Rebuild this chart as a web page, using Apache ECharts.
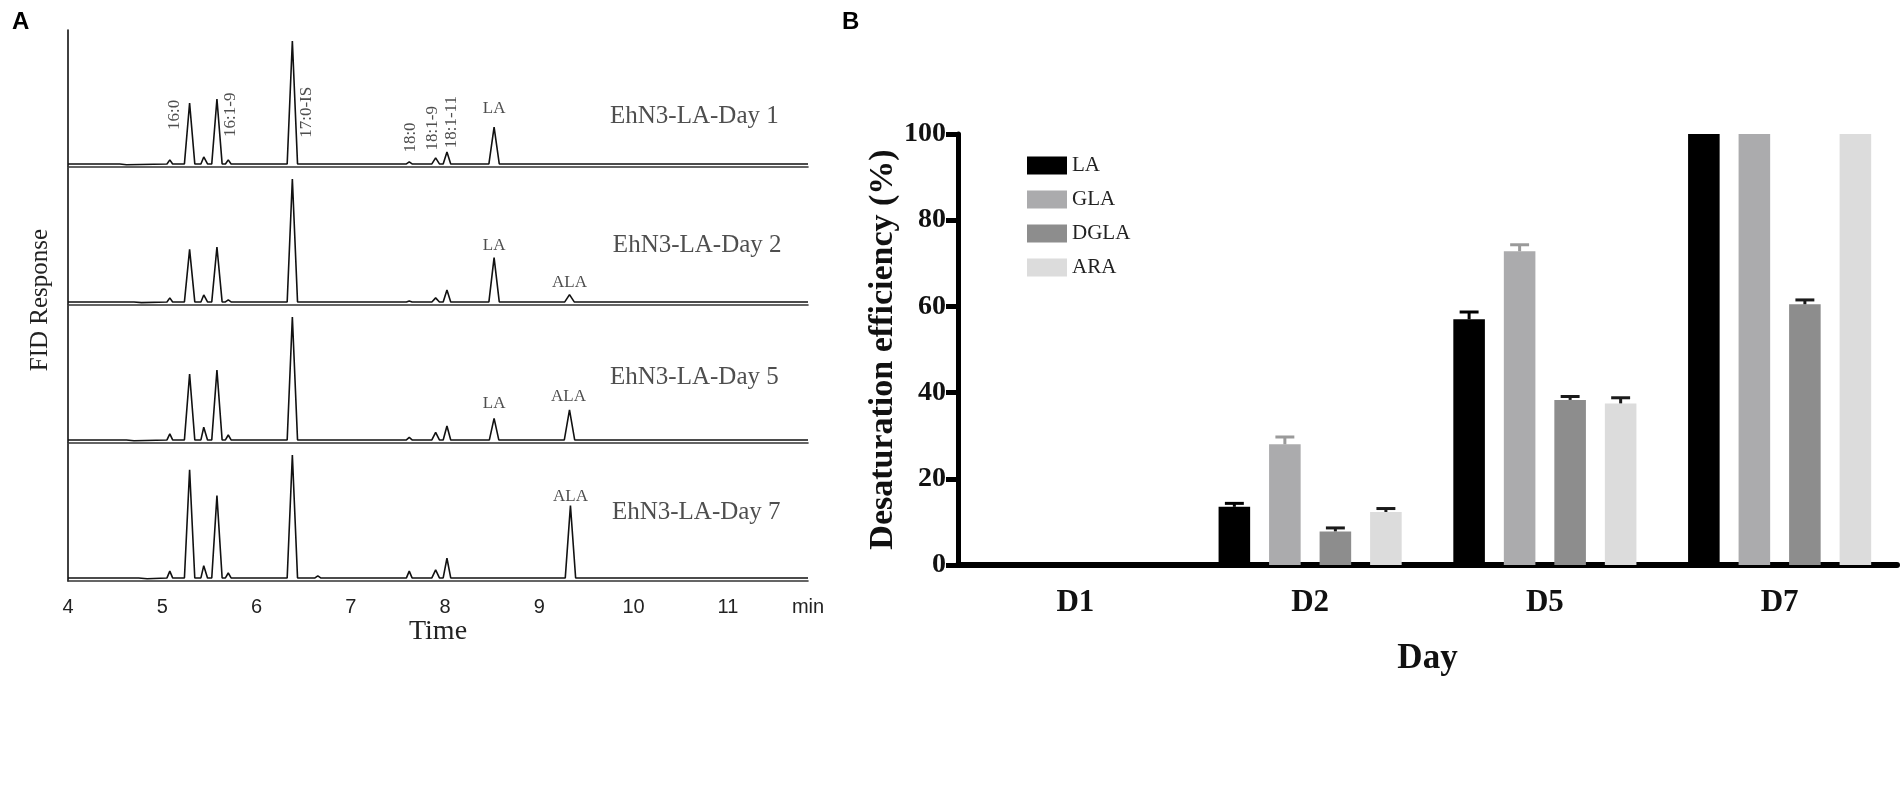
<!DOCTYPE html>
<html>
<head>
<meta charset="utf-8">
<script src="https://cdn.jsdelivr.net/npm/echarts@6/dist/echarts.min.js"></script>
<style>
  html, body { margin: 0; padding: 0; background: #fff; }
  #chart-container { width: 1900px; height: 796px; }
</style>
</head>
<body>
<div id="chart-container"></div>
<script>
// ---- Panel A: GC-FID traces, [time (min), response] vertices (17:0-IS = 100) ----
const traceDay1 = [
  [4, 0], [4.28, 0], [4.3, 1], [4.32, 0], [4.55, 0], [4.56, -0.7], [4.62, -0.7], [4.63, 0],
  [5.05, 0], [5.08, 3.3], [5.11, 0], [5.235, 0], [5.29, 49.6], [5.345, 0],
  [5.41, 0], [5.44, 5.7], [5.48, 0], [5.525, 0], [5.58, 52.8], [5.635, 0],
  [5.67, 0], [5.7, 3.3], [5.73, 0], [6.325, 0], [6.38, 100], [6.435, 0],
  [6.6, 0], [6.62, 0.8], [6.64, 0], [7.03, 0], [7.05, 0.6], [7.07, 0],
  [7.59, 0], [7.62, 1.6], [7.65, 0], [7.86, 0], [7.9, 4.9], [7.94, 0],
  [7.98, 0], [8.02, 9.8], [8.06, 0], [8.2, 0], [8.22, 1], [8.24, 0],
  [8.465, 0], [8.52, 30], [8.575, 0], [8.98, 0], [9.0, 0.6], [9.02, 0],
  [9.71, 0], [9.73, 0.6], [9.75, 0], [10.08, 0], [10.1, 0.5], [10.12, 0],
  [11.05, 0], [11.07, 0.6], [11.09, 0], [11.85, 0]
];
const traceDay2 = [
  [4, 0], [4.28, 0], [4.3, 0.8], [4.32, 0], [4.7, 0], [4.71, -0.6], [4.78, -0.6], [4.79, 0],
  [5.05, 0], [5.08, 3.3], [5.11, 0], [5.235, 0], [5.29, 42.8], [5.345, 0],
  [5.41, 0], [5.44, 5.7], [5.48, 0], [5.525, 0], [5.58, 44.7], [5.635, 0],
  [5.67, 0], [5.7, 1.6], [5.73, 0], [6.325, 0], [6.38, 100], [6.435, 0],
  [6.6, 0], [6.62, 0.6], [6.64, 0], [7.03, 0], [7.05, 0.6], [7.07, 0],
  [7.59, 0], [7.62, 0.8], [7.65, 0], [7.86, 0], [7.9, 3.3], [7.94, 0],
  [7.98, 0], [8.02, 9.8], [8.06, 0], [8.465, 0], [8.52, 36], [8.575, 0],
  [9.27, 0], [9.32, 6], [9.37, 0], [10.08, 0], [10.1, 0.5], [10.12, 0],
  [11.05, 0], [11.07, 0.5], [11.09, 0], [11.85, 0]
];
const traceDay5 = [
  [4, 0], [4.28, 0], [4.3, 0.8], [4.32, 0], [4.62, 0], [4.63, -0.7], [4.7, -0.7], [4.71, 0],
  [5.05, 0], [5.08, 4.9], [5.11, 0], [5.235, 0], [5.29, 53.7], [5.345, 0],
  [5.41, 0], [5.44, 10.3], [5.48, 0], [5.525, 0], [5.58, 56.9], [5.635, 0],
  [5.67, 0], [5.7, 4], [5.73, 0], [6.325, 0], [6.38, 100], [6.435, 0],
  [6.6, 0], [6.62, 0.8], [6.64, 0], [7.03, 0], [7.05, 1], [7.07, 0],
  [7.59, 0], [7.62, 2], [7.65, 0], [7.86, 0], [7.9, 6.2], [7.94, 0],
  [7.98, 0], [8.02, 11.4], [8.06, 0], [8.18, 0], [8.2, 1], [8.22, 0],
  [8.47, 0], [8.52, 17.6], [8.57, 0], [9.265, 0], [9.32, 24.4], [9.375, 0],
  [10.1, 0], [10.12, 1], [10.14, 0], [11.05, 0], [11.07, 1], [11.09, 0], [11.85, 0]
];
const traceDay7 = [
  [4, 0], [4.28, 0], [4.3, 1.2], [4.32, 0], [4.75, 0], [4.76, -0.7], [4.84, -0.7], [4.85, 0],
  [5.05, 0], [5.08, 5.5], [5.11, 0], [5.235, 0], [5.29, 88], [5.345, 0],
  [5.41, 0], [5.44, 10], [5.48, 0], [5.525, 0], [5.58, 67], [5.635, 0],
  [5.67, 0], [5.7, 4], [5.73, 0], [6.325, 0], [6.38, 100], [6.435, 0],
  [6.62, 0], [6.65, 1.6], [6.68, 0], [7.03, 0], [7.05, 1.2], [7.07, 0],
  [7.59, 0], [7.62, 5.5], [7.65, 0], [7.86, 0], [7.9, 6.5], [7.94, 0],
  [7.98, 0], [8.02, 16], [8.06, 0], [8.18, 0], [8.2, 1.2], [8.22, 0],
  [9.275, 0], [9.33, 59], [9.385, 0], [10.1, 0], [10.12, 0.8], [10.14, 0],
  [11.05, 0], [11.07, 1.2], [11.09, 0], [11.85, 0]
];
const traces = [traceDay1, traceDay2, traceDay5, traceDay7];
const dayNames = ['EhN3-LA-Day 1', 'EhN3-LA-Day 2', 'EhN3-LA-Day 5', 'EhN3-LA-Day 7'];
const timeTicks = [4, 5, 6, 7, 8, 9, 10, 11];

// peak annotations per trace: [text, time, height, rotated?]
const peakNames = [
  [['16:0', 5.13, 40, 1], ['16:1-9', 5.72, 40, 1], ['17:0-IS', 6.53, 42, 1],
   ['18:0', 7.63, 21.5, 1], ['18:1-9', 7.87, 29, 1], ['18:1-11', 8.07, 34, 1], ['LA', 8.52, 45, 0]],
  [['LA', 8.52, 46, 0], ['ALA', 9.32, 16, 0]],
  [['LA', 8.52, 30, 0], ['ALA', 9.31, 35, 0]],
  [['ALA', 9.33, 66, 0]]
];
const dayLabelPos = [[9.75, 39], [9.78, 46], [9.75, 50.5], [9.77, 53.5]];

// ---- Panel B: desaturation efficiency ----
const days = ['D1', 'D2', 'D5', 'D7'];
const fattyAcids = ['LA', 'GLA', 'DGLA', 'ARA'];
const effLA = [0, 13.5, 57, 100];
const effGLA = [0, 28, 72.8, 100];
const effDGLA = [0, 7.8, 38.3, 60.5];
const effARA = [0, 12.3, 37.5, 100];
const errLA = [0, 0.8, 1.7, 0];
const errGLA = [0, 1.7, 1.5, 0];
const errDGLA = [0, 0.8, 0.8, 1.0];
const errARA = [0, 0.8, 1.3, 0];

const effs = [effLA, effGLA, effDGLA, effARA];
const errs = [errLA, errGLA, errDGLA, errARA];
const barColors = ['#000000', '#ababad', '#8d8d8d', '#dcdcdc'];
const errColors = ['#000000', '#9a9a9a', '#1a1a1a', '#1a1a1a'];

const serif = "'Liberation Serif', 'Times New Roman', serif";
const sans = "'Liberation Sans', Arial, sans-serif";

var dom = document.getElementById('chart-container');
var myChart = echarts.init(dom, null, { renderer: 'canvas' });

var grids = [], xAxes = [], yAxes = [], series = [];
var rowTops = [30, 168, 306, 444];

rowTops.forEach(function (top, i) {
    grids.push({ left: 68, width: 740, top: top, height: 137 });
    var last = i === 3;
    xAxes.push({
        gridIndex: i, type: 'value', min: 4, max: 11.85,
        axisLine: { show: true, onZero: false, lineStyle: { color: '#333', width: 1.6 } },
        axisTick: { show: false },
        splitLine: { show: false },
        axisLabel: {
            show: last,
            customValues: timeTicks.concat([11.85]),
            formatter: function (v) { return v > 11.5 ? 'min' : String(v); },
            fontFamily: sans, fontSize: 20, color: '#222', margin: 16
        },
        name: last ? 'Time' : '',
        nameLocation: 'middle', nameGap: 37,
        nameTextStyle: { fontFamily: serif, fontSize: 28, color: '#222' }
    });
    yAxes.push({
        gridIndex: i, type: 'value', min: -2.5, max: 109,
        axisLine: { show: true, onZero: false, lineStyle: { color: '#111', width: 1.6 } },
        axisTick: { show: false }, axisLabel: { show: false }, splitLine: { show: false }
    });
    series.push({
        type: 'line', xAxisIndex: i, yAxisIndex: i,
        data: traces[i], showSymbol: false, silent: true,
        lineStyle: { color: '#111', width: 1.6 }
    });
    var lbls = peakNames[i].map(function (p) {
        return {
            value: [p[1], p[2], p[0]],
            label: { rotate: p[3] ? 90 : 0 }
        };
    });
    series.push({
        type: 'scatter', xAxisIndex: i, yAxisIndex: i, silent: true,
        symbolSize: 1, itemStyle: { color: 'rgba(0,0,0,0)' },
        data: lbls,
        label: {
            show: true, position: 'inside',
            formatter: function (p) { return p.value[2]; },
            fontFamily: serif, fontSize: 17, color: '#222'
        }
    });
    series.push({
        type: 'scatter', xAxisIndex: i, yAxisIndex: i, silent: true,
        symbolSize: 1, itemStyle: { color: 'rgba(0,0,0,0)' },
        data: [[dayLabelPos[i][0], dayLabelPos[i][1], dayNames[i]]],
        label: {
            show: true, position: 'inside', align: 'left',
            formatter: function (p) { return p.value[2]; },
            fontFamily: serif, fontSize: 25, color: '#222'
        }
    });
});

// panel B grid/axes (index 4)
grids.push({ left: 958, right: 3, top: 134, bottom: 231 });
xAxes.push({
    gridIndex: 4, type: 'category', data: days,
    axisLine: { lineStyle: { color: '#000', width: 6 } },
    axisTick: { show: false },
    axisLabel: { fontFamily: serif, fontWeight: 'bold', fontSize: 31, color: '#111', margin: 22 },
    name: 'Day', nameLocation: 'middle', nameGap: 76,
    nameTextStyle: { fontFamily: serif, fontWeight: 'bold', fontSize: 35, color: '#111' }
});
yAxes.push({
    gridIndex: 4, type: 'value', min: 0, max: 100, interval: 20,
    axisLine: { show: true, lineStyle: { color: '#000', width: 5 } },
    axisTick: { show: true, length: 12, lineStyle: { color: '#000', width: 5 } },
    splitLine: { show: false },
    axisLabel: { fontFamily: serif, fontWeight: 'bold', fontSize: 28, color: '#111', margin: 12 },
    name: 'Desaturation efficiency (%)', nameLocation: 'middle', nameGap: 54,
    nameTextStyle: { fontFamily: serif, fontWeight: 'bold', fontSize: 34, color: '#111' }
});

fattyAcids.forEach(function (fa, k) {
    series.push({
        name: fa, type: 'bar', xAxisIndex: 4, yAxisIndex: 4,
        data: effs[k],
        barGap: '60%', barCategoryGap: '22%',
        itemStyle: { color: barColors[k] }
    });
});
fattyAcids.forEach(function (fa, k) {
    series.push({
        type: 'custom', xAxisIndex: 4, yAxisIndex: 4, silent: true, z: 3,
        data: days.map(function (d, i) { return [i, effs[k][i], errs[k][i]]; }),
        encode: { x: 0, y: 1 },
        renderItem: function (params, api) {
            var ci = api.value(0), v = api.value(1), e = api.value(2);
            if (!e) return;
            var band = api.size([1, 0])[0];
            var b = band * 0.78 / 5.8;
            var cx = api.coord([ci, 0])[0] + (k - 1.5) * 1.6 * b;
            var y0 = api.coord([ci, v])[1];
            var y1 = api.coord([ci, v + e])[1];
            var st = { stroke: errColors[k], lineWidth: 3 };
            return {
                type: 'group',
                children: [
                    { type: 'line', shape: { x1: cx, y1: y0, x2: cx, y2: y1 }, style: st },
                    { type: 'line', shape: { x1: cx - b * 0.3, y1: y1, x2: cx + b * 0.3, y2: y1 }, style: st }
                ]
            };
        }
    });
});

var option = {
    animation: false,
    backgroundColor: '#fff',
    grid: grids,
    xAxis: xAxes,
    yAxis: yAxes,
    legend: {
        data: fattyAcids, orient: 'vertical', left: 1022, top: 150,
        icon: 'rect', itemWidth: 40, itemHeight: 18, itemGap: 13,
        textStyle: { fontFamily: serif, fontSize: 21, color: '#222' }
    },
    graphic: [
        { type: 'text', x: 12, y: 10, style: { text: 'A', font: 'bold 24px ' + sans, fill: '#000' } },
        { type: 'text', x: 842, y: 10, style: { text: 'B', font: 'bold 24px ' + sans, fill: '#000' } },
        {
            type: 'text', x: 40, y: 300, rotation: Math.PI / 2,
            style: { text: 'FID Response', font: '25px ' + serif, fill: '#222', textAlign: 'center', textVerticalAlign: 'middle' }
        }
    ],
    series: series
};

if (option && typeof option === 'object') {
    myChart.setOption(option);
}

window.addEventListener('resize', myChart.resize);
</script>
</body>
</html>
